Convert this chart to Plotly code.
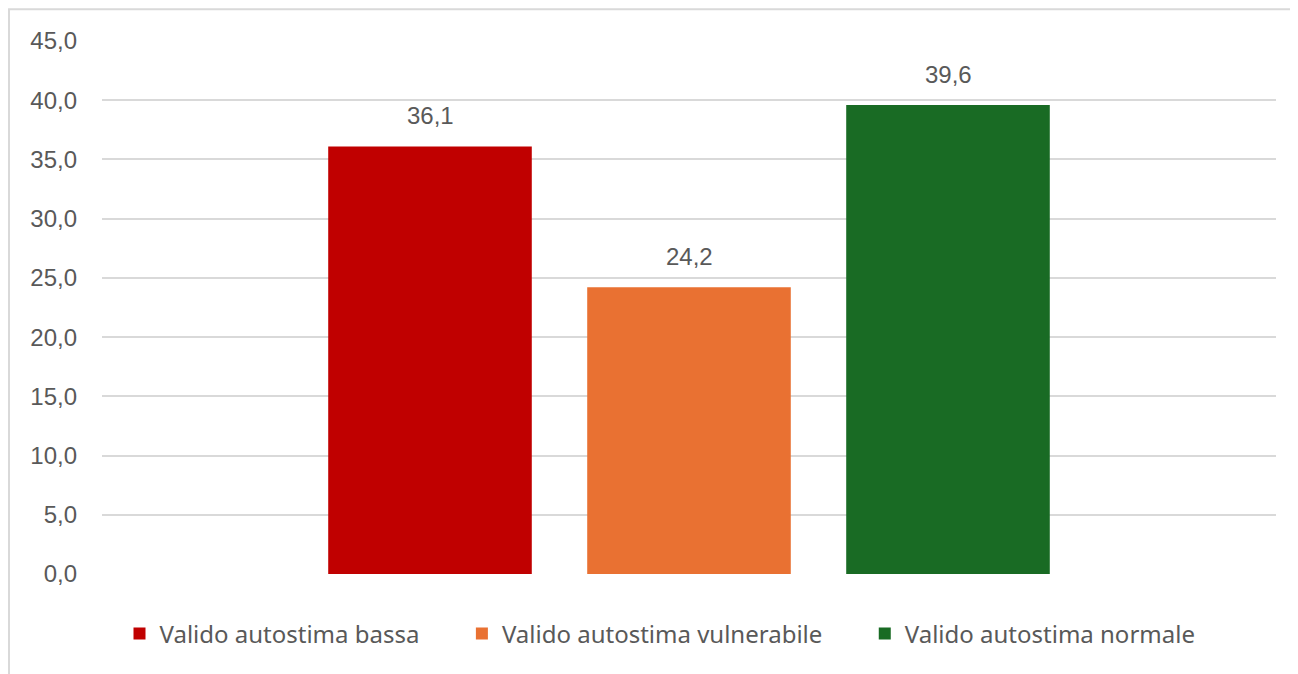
import plotly.graph_objects as go

# data
series_names = ["Valido autostima bassa", "Valido autostima vulnerabile", "Valido autostima normale"]
series_values = [36.1, 24.2, 39.6]
series_colors = ["#C00000", "#E97132", "#196B24"]
y_ticks = [0, 5, 10, 15, 20, 25, 30, 35, 40, 45]

TEXT = "#595959"
GRID = "#D9D9D9"
FONT = "Liberation Sans, Arial, sans-serif"


def fmt(v):
    return f"{v:.1f}".replace(".", ",")


fig = go.Figure()
for i, (name, val, color) in enumerate(zip(series_names, series_values, series_colors)):
    # extra spacing between legend entries (Excel leaves a wider gap)
    legend_name = name + ("\u00a0" * 6 if i < len(series_names) - 1 else "")
    fig.add_trace(go.Bar(
        x=[name],
        y=[val],
        name=legend_name,
        width=0.786,
        marker=dict(color=color, line=dict(width=0)),
    ))
    # value label sitting a bit above the bar, like Excel
    fig.add_annotation(x=name, y=val, text=fmt(val), showarrow=False,
                       yanchor="bottom", yshift=15,
                       font=dict(color=TEXT, size=24, family=FONT))

# chart frame like the Excel chart area
fig.add_shape(type="rect", xref="paper", yref="paper",
              x0=-0.0792, x1=1.05, y0=-0.25, y1=1.0595,
              line=dict(color=GRID, width=2), layer="below")

fig.update_layout(
    width=1290, height=666,
    paper_bgcolor="white", plot_bgcolor="white",
    separators=",.",
    barmode="overlay",
    margin=dict(l=94, r=22, t=33, b=100),
    font=dict(family=FONT, color=TEXT, size=24),
    xaxis=dict(type="category", range=[-1.2664, 3.2664], showticklabels=False,
               showgrid=False, zeroline=False, showline=False),
    yaxis=dict(range=[0, 45], tickvals=y_ticks, tickformat=".1f",
               showgrid=True, gridcolor=GRID, gridwidth=2,
               zeroline=False, showline=False, ticks="",
               ticklabelstandoff=24,
               tickfont=dict(size=24, color=TEXT, family=FONT)),
    legend=dict(orientation="h", x=0.4753, xanchor="center", y=-0.1126, yanchor="middle",
                font=dict(size=24, color=TEXT, family="Noto Sans, sans-serif"),
                traceorder="normal", itemsizing="constant"),
    showlegend=True,
)

fig.write_html("out.html")
